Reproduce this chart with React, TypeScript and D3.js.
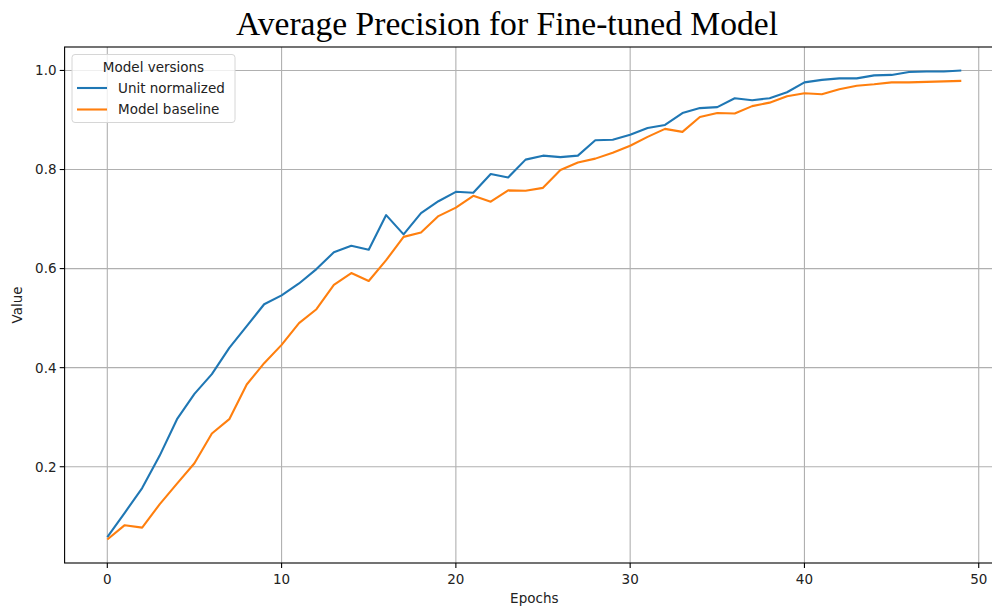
import React from "react";
import * as d3 from "d3";

const epochs: number[] = d3.range(0, 50);

const unitNormalized: number[] = [
  0.058, 0.107, 0.157, 0.222, 0.296, 0.347, 0.387, 0.440, 0.484, 0.528,
  0.546, 0.570, 0.599, 0.633, 0.646, 0.638, 0.708, 0.669, 0.712, 0.736,
  0.755, 0.753, 0.791, 0.784, 0.820, 0.828, 0.825, 0.828, 0.859, 0.860,
  0.870, 0.884, 0.890, 0.914, 0.924, 0.926, 0.944, 0.940, 0.944, 0.956,
  0.976, 0.981, 0.984, 0.984, 0.990, 0.991, 0.997, 0.998, 0.998, 1.000,
];

const modelBaseline: number[] = [
  0.053, 0.082, 0.077, 0.124, 0.166, 0.207, 0.267, 0.296, 0.366, 0.409,
  0.446, 0.490, 0.518, 0.567, 0.591, 0.575, 0.617, 0.664, 0.673, 0.706,
  0.723, 0.747, 0.735, 0.758, 0.757, 0.763, 0.799, 0.814, 0.822, 0.834,
  0.848, 0.866, 0.882, 0.876, 0.906, 0.914, 0.913, 0.928, 0.935, 0.948,
  0.954, 0.952, 0.962, 0.969, 0.972, 0.976, 0.976, 0.977, 0.978, 0.979,
];

const seriesNames: string[] = ["Unit normalized", "Model baseline"];
const seriesColors: string[] = ["#1f77b4", "#ff7f0e"];
const xTicks: number[] = [0, 10, 20, 30, 40, 50];
const yTicks: number[] = [0.2, 0.4, 0.6, 0.8, 1.0];

const W = 992;
const H = 606;
const plot = { left: 64.6, right: 1004, top: 47, bottom: 563 };

export default function App() {
  const allVals = [...unitNormalized, ...modelBaseline];
  const xMin = d3.min(epochs)!, xMax = d3.max(epochs)!;
  const yMin = d3.min(allVals)!, yMax = d3.max(allVals)!;
  const xPad = (xMax - xMin) * 0.05;
  const yPad = (yMax - yMin) * 0.05;

  const x = d3.scaleLinear().domain([xMin - xPad, xMax + xPad]).range([plot.left, plot.right]);
  const y = d3.scaleLinear().domain([yMin - yPad, yMax + yPad]).range([plot.bottom, plot.top]);

  const line = d3
    .line<number>()
    .x((_, i) => x(epochs[i]))
    .y((d) => y(d));

  const series = [unitNormalized, modelBaseline];
  const font = "'DejaVu Sans', sans-serif";

  return (
    <svg
      width={W}
      height={H}
      viewBox={`0 0 ${W} ${H}`}
      style={{ position: "absolute", left: 0, top: 0, background: "#fff" }}
    >
      <rect x={0} y={0} width={W} height={H} fill="#fff" />
      {/* grid */}
      <g stroke="#b0b0b0" strokeWidth={1.1}>
        {xTicks.map((t) => (
          <line key={`gx${t}`} x1={x(t)} x2={x(t)} y1={plot.top} y2={plot.bottom} />
        ))}
        {yTicks.map((t) => (
          <line key={`gy${t}`} x1={plot.left} x2={plot.right} y1={y(t)} y2={y(t)} />
        ))}
      </g>
      {/* series */}
      <g fill="none" strokeWidth={2.1} strokeLinejoin="round" strokeLinecap="butt">
        {series.map((s, i) => (
          <path key={i} d={line(s) ?? ""} stroke={seriesColors[i]} />
        ))}
      </g>
      {/* spines */}
      <rect
        x={plot.left}
        y={plot.top}
        width={plot.right - plot.left}
        height={plot.bottom - plot.top}
        fill="none"
        stroke="#000"
        strokeWidth={1.1}
      />
      {/* ticks and axis labels */}
      <g fontFamily={font} fontSize={13.5} fill="#222">
        {xTicks.map((t) => (
          <g key={`tx${t}`}>
            <line x1={x(t)} x2={x(t)} y1={plot.bottom} y2={plot.bottom + 4.9} stroke="#000" strokeWidth={1.1} />
            <text x={x(t)} y={plot.bottom + 20.5} textAnchor="middle">
              {t}
            </text>
          </g>
        ))}
        {yTicks.map((t) => (
          <g key={`ty${t}`}>
            <line x1={plot.left - 4.9} x2={plot.left} y1={y(t)} y2={y(t)} stroke="#000" strokeWidth={1.1} />
            <text x={plot.left - 8} y={y(t)} dy="0.36em" textAnchor="end">
              {d3.format(".1f")(t)}
            </text>
          </g>
        ))}
        <text x={(plot.left + plot.right) / 2} y={603} textAnchor="middle">
          Epochs
        </text>
        <text transform={`translate(22, ${(plot.top + plot.bottom) / 2}) rotate(-90)`} textAnchor="middle">
          Value
        </text>
      </g>
      {/* title */}
      <text
        x={507}
        y={35}
        textAnchor="middle"
        fontFamily="'Liberation Serif', 'DejaVu Serif', serif"
        fontSize={33}
        textLength={542}
        lengthAdjust="spacingAndGlyphs"
        fill="#000"
      >
        Average Precision for Fine-tuned Model
      </text>
      {/* legend */}
      <g fontFamily={font} fontSize={13.5} fill="#222">
        <rect x={72} y={54.5} width={163} height={68} rx={3} fill="#fff" fillOpacity={0.8} stroke="#d6d6d6" strokeWidth={1} />
        <text x={153.5} y={71.5} textAnchor="middle">
          Model versions
        </text>
        {seriesNames.map((n, i) => (
          <g key={n} transform={`translate(0, ${88 + i * 21.5})`}>
            <line x1={77} x2={107} y1={0} y2={0} stroke={seriesColors[i]} strokeWidth={2.1} />
            <text x={118} y={0} dy="0.36em">
              {n}
            </text>
          </g>
        ))}
      </g>
    </svg>
  );
}
